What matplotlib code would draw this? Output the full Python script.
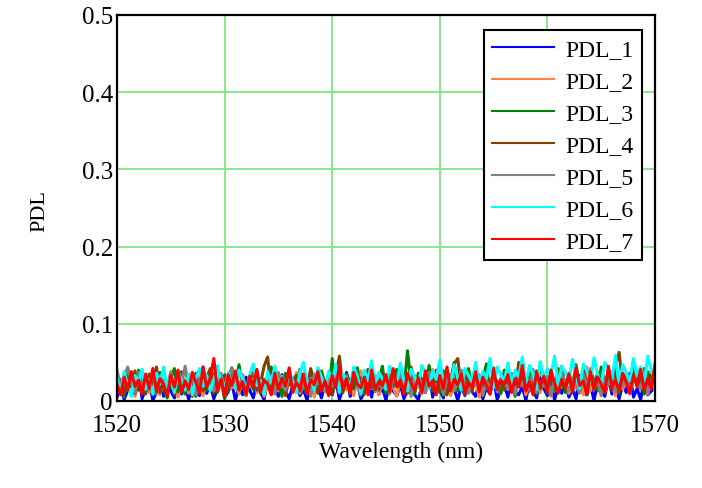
import numpy as np
import matplotlib
matplotlib.use("Agg")
import matplotlib.pyplot as plt

# PDL readings in units of 0.001, one point every 1/3 nm from 1520 to 1570
wl_start, wl_stop = 1520, 1570

pdl_1 = [
    5, 20, 2, 14, 28, 8, 36, 3, 17, 25, 1, 11, 30, 6, 22, 13, 4, 33, 9, 19,
    2, 26, 15, 7, 44, 10, 21, 3, 16, 29, 5, 12, 24, 1, 18, 8, 31, 14, 4, 23,
    11, 2, 27, 9, 17, 6, 34, 13, 3, 20, 25, 7, 15, 1, 30, 10, 19, 4, 22, 12,
    8, 28, 2, 16, 37, 6, 14, 24, 3, 11, 20, 5, 33, 9, 17, 1, 26, 13, 7, 21,
    3, 15, 29, 8, 2, 18, 11, 39, 5, 23, 14, 4, 27, 10, 16, 1, 20, 7, 32, 12,
    6, 24, 3, 17, 9, 28, 2, 14, 21, 5, 35, 11, 8, 19, 1, 25, 13, 4, 30, 16,
    7, 22, 2, 18, 10, 27, 5, 15, 3, 33, 12, 8, 20, 1, 24, 14, 6, 29, 9, 17,
    3, 21, 11, 36, 5, 16, 2, 26, 8, 13, 19]
pdl_2 = [
    18, 9, 27, 14, 33, 6, 22, 16, 30, 11, 38, 20, 8, 25, 13, 35, 17, 5, 29, 21,
    10, 32, 15, 24, 7, 28, 19, 36, 12, 23, 4, 31, 17, 26, 9, 34, 14, 20, 40, 11,
    27, 6, 22, 16, 33, 13, 29, 8, 25, 18, 37, 10, 21, 15, 30, 5, 26, 19, 12, 35,
    9, 24, 17, 31, 14, 22, 7, 28, 39, 11, 20, 16, 33, 8, 25, 13, 30, 18, 6, 27,
    21, 12, 36, 15, 23, 9, 29, 17, 41, 10, 26, 14, 32, 7, 22, 19, 35, 11, 28, 16,
    24, 5, 31, 18, 13, 37, 20, 9, 27, 15, 33, 12, 23, 42, 8, 30, 17, 25, 11, 34,
    19, 6, 28, 14, 38, 21, 10, 26, 16, 31, 8, 44, 13, 24, 18, 35, 11, 29, 20, 7,
    33, 15, 27, 12, 40, 22, 17, 30, 9, 25, 14]
pdl_3 = [
    15, 28, 5, 34, 19, 10, 40, 22, 13, 31, 8, 26, 37, 17, 4, 29, 42, 12, 24, 9,
    33, 18, 6, 27, 39, 14, 21, 35, 11, 30, 3, 25, 43, 16, 47, 20, 7, 32, 15, 38,
    10, 28, 19, 44, 13, 24, 6, 36, 21, 30, 12, 41, 17, 9, 33, 26, 14, 39, 22, 8,
    55, 18, 29, 11, 35, 24, 16, 43, 7, 31, 20, 38, 13, 27, 45, 10, 34, 19, 41, 25,
    14, 65, 22, 9, 36, 28, 15, 46, 20, 32, 11, 39, 24, 17, 50, 13, 30, 8, 42, 21,
    35, 16, 27, 48, 12, 33, 23, 10, 40, 19, 29, 6, 44, 26, 15, 37, 21, 9, 46, 31,
    18, 28, 14, 42, 24, 11, 36, 20, 47, 16, 33, 8, 39, 27, 13, 44, 22, 30, 17, 41,
    10, 35, 25, 14, 52, 19, 31, 9, 38, 23, 28]
pdl_4 = [
    12, 25, 7, 31, 18, 39, 14, 22, 9, 35, 20, 44, 11, 27, 16, 33, 8, 24, 38, 15,
    29, 6, 36, 21, 13, 30, 42, 10, 26, 19, 34, 12, 40, 23, 17, 31, 9, 28, 37, 14,
    22, 45, 57, 11, 30, 18, 26, 7, 38, 21, 33, 13, 29, 16, 42, 24, 10, 35, 19, 27,
    8, 32, 58, 15, 25, 12, 37, 20, 30, 9, 41, 17, 28, 14, 35, 22, 11, 39, 26, 18,
    33, 10, 44, 21, 29, 15, 36, 24, 13, 40, 19, 31, 8, 27, 48, 55, 16, 34, 22, 12,
    38, 25, 17, 30, 11, 43, 20, 28, 14, 36, 23, 9, 50, 18, 32, 13, 27, 39, 16, 24,
    10, 35, 21, 29, 45, 15, 33, 19, 26, 12, 41, 22, 30, 17, 37, 9, 28, 24, 14, 46,
    63, 20, 31, 13, 38, 25, 16, 42, 11, 34, 27]
pdl_5 = [
    40, 18, 32, 44, 25, 11, 37, 21, 29, 14, 42, 9, 33, 26, 17, 38, 12, 30, 22, 45,
    16, 35, 8, 27, 41, 19, 31, 13, 24, 36, 10, 28, 43, 20, 15, 34, 7, 29, 23, 39,
    12, 26, 18, 33, 9, 37, 21, 14, 30, 25, 11, 40, 17, 28, 6, 35, 22, 31, 13, 27,
    19, 38, 10, 24, 32, 15, 41, 20, 8, 29, 26, 36, 12, 23, 17, 34, 9, 30, 21, 39,
    14, 27, 6, 33, 19, 25, 11, 37, 22, 16, 31, 8, 28, 35, 13, 24, 40, 18, 10, 29,
    21, 34, 7, 26, 15, 38, 12, 30, 23, 17, 36, 9, 27, 20, 33, 14, 41, 11, 25, 19,
    32, 8, 28, 16, 37, 22, 13, 29, 24, 10, 35, 18, 42, 15, 26, 7, 31, 21, 38, 12,
    27, 19, 34, 9, 30, 23, 16, 39, 11, 25, 33]
pdl_6 = [
    30, 12, 38, 20, 6, 33, 25, 41, 15, 28, 9, 36, 22, 44, 17, 31, 11, 39, 26, 14,
    35, 8, 29, 42, 19, 33, 13, 27, 46, 21, 10, 37, 24, 16, 40, 30, 12, 34, 48, 20,
    27, 9, 38, 23, 45, 15, 32, 18, 41, 26, 11, 36, 50, 21, 29, 14, 43, 31, 17, 39,
    24, 47, 12, 35, 28, 19, 44, 33, 10, 40, 26, 52, 18, 37, 29, 15, 45, 34, 22, 49,
    27, 13, 41, 31, 20, 46, 36, 16, 39, 28, 53, 24, 35, 18, 47, 30, 14, 42, 33, 25,
    50, 21, 38, 29, 55, 17, 44, 34, 26, 49, 19, 40, 31, 57, 23, 46, 36, 15, 51, 28,
    42, 33, 58, 20, 45, 37, 27, 54, 30, 16, 48, 39, 25, 56, 34, 21, 50, 43, 29, 59,
    18, 47, 36, 26, 55, 32, 44, 22, 58, 38, 30]
pdl_7 = [
    22, 8, 31, 14, 38, 19, 27, 9, 35, 16, 42, 12, 29, 21, 7, 33, 18, 40, 11, 26,
    15, 37, 24, 10, 44, 17, 30, 55, 13, 28, 6, 34, 20, 39, 14, 25, 9, 32, 18, 41,
    12, 27, 22, 8, 36, 15, 30, 19, 43, 11, 24, 16, 35, 9, 28, 21, 38, 13, 26, 7,
    33, 18, 45, 14, 29, 10, 37, 22, 17, 31, 8, 40, 15, 25, 20, 34, 12, 42, 18, 27,
    9, 36, 23, 14, 30, 11, 39, 19, 26, 8, 33, 16, 44, 13, 28, 21, 35, 10, 24, 17,
    38, 12, 31, 20, 9, 41, 15, 27, 22, 34, 11, 29, 18, 46, 13, 25, 8, 37, 19, 32,
    14, 40, 23, 10, 28, 17, 35, 12, 43, 20, 26, 9, 38, 15, 31, 22, 11, 45, 18, 27,
    13, 36, 24, 10, 33, 19, 41, 14, 29, 16, 48]

series = [pdl_1, pdl_2, pdl_3, pdl_4, pdl_5, pdl_6, pdl_7]
names = ["PDL_1", "PDL_2", "PDL_3", "PDL_4", "PDL_5", "PDL_6", "PDL_7"]
colors = ["#0000ff", "#ff8040", "#008000", "#804000", "#808080", "#00ffff", "#ff0000"]

plt.rcParams["font.family"] = ["Liberation Serif", "DejaVu Serif"]

fig = plt.figure(figsize=(7.02, 4.89), dpi=100)
ax = fig.add_axes([117 / 702, 1 - 402 / 489, 538 / 702, 386 / 489])

for vals, name, c in zip(series, names, colors):
    y = np.array(vals) / 1000
    x = np.linspace(wl_start, wl_stop, len(y))
    ax.plot(x, y, color=c, lw=2.2, label=name)

ax.set_xlim(1520, 1570)
ax.set_ylim(0, 0.5)
ax.set_xticks([1520, 1530, 1540, 1550, 1560, 1570])
ax.set_yticks([0, 0.1, 0.2, 0.3, 0.4, 0.5])
ax.set_yticklabels(["0", "0.1", "0.2", "0.3", "0.4", "0.5"])
ax.tick_params(length=0, labelsize=18)
ax.tick_params(axis="x", pad=9)
ax.tick_params(axis="y", pad=3)
ax.grid(True, color="#80e680", lw=1.3)
ax.set_axisbelow(True)
for s in ax.spines.values():
    s.set_linewidth(1.6)
    s.set_color("black")

leg = ax.legend(loc="upper right", bbox_to_anchor=(642 / 702, 1 - 31 / 489),
                bbox_transform=fig.transFigure, fontsize=17, frameon=True,
                fancybox=False, edgecolor="black", framealpha=1,
                handlelength=2.6, handletextpad=0.5, labelspacing=0.445,
                borderpad=0.35, borderaxespad=0)
leg.get_frame().set_linewidth(1.5)
for line in leg.get_lines():
    line.set_linewidth(1.5)

fig.text(40 / 702, 1 - 211 / 489, "PDL", rotation=90, fontsize=16,
         ha="center", va="center")
fig.text(401 / 702, 1 - 452 / 489, "Wavelength (nm)", fontsize=17,
         ha="center", va="center")

fig.savefig("out.png", dpi=100)
